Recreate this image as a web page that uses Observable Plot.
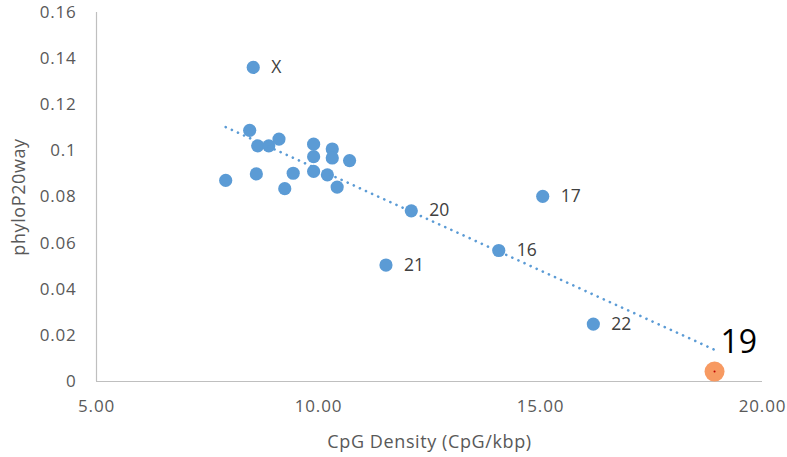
<!DOCTYPE html>
<html>
<head>
<meta charset="utf-8">
<script src="https://cdn.jsdelivr.net/npm/d3@7"></script>
<script src="https://cdn.jsdelivr.net/npm/@observablehq/plot@0.6"></script>
<style>
  html, body { margin: 0; padding: 0; background: #fff; }
  #chart svg { font-family: "Open Sans", sans-serif; }
  #chart g[aria-label="x-axis tick label"] text,
  #chart g[aria-label="y-axis tick label"] text { letter-spacing: 0.8px; }
  #chart g[aria-label="x-axis label"] text,
  #chart g[aria-label="y-axis label"] text { font-size: 18px; letter-spacing: 0.6px; fill: #595959; }
</style>
</head>
<body>
<div id="chart"></div>
<script>
// Chromosome labels (empty = unlabeled point)
const labels = ["X", "", "", "", "", "", "", "", "", "", "", "", "", "", "", "", "", "20", "21", "17", "16", "22", "19"];
// CpG density (CpG/kbp)
const cpgDensity = [8.53, 8.45, 8.63, 8.88, 9.11, 9.89, 9.89, 10.31, 10.31, 10.70, 7.91, 8.60, 9.43, 9.24, 9.89, 10.20, 10.42, 12.09, 11.52, 15.05, 14.06, 16.19, 18.92];
// phyloP20way
const phyloP = [0.1362, 0.1089, 0.1022, 0.1022, 0.1051, 0.1029, 0.0975, 0.1008, 0.0969, 0.0958, 0.0872, 0.0900, 0.0903, 0.0836, 0.0911, 0.0896, 0.0843, 0.0740, 0.0505, 0.0803, 0.0568, 0.0249, 0.0043];
const highlighted = "19";

const xTicks = [5, 10, 15, 20];
const yTicks = [0, 0.02, 0.04, 0.06, 0.08, 0.1, 0.12, 0.14, 0.16];

const data = labels.map((label, i) => ({label, x: cpgDensity[i], y: phyloP[i]}));
const blue = data.filter(d => d.label !== highlighted);
const hi = data.filter(d => d.label === highlighted);
const smallLabels = data.filter(d => d.label !== "" && d.label !== highlighted);

const chart = Plot.plot({
  width: 787,
  height: 457,
  marginTop: 12,
  marginRight: 25,
  marginBottom: 76,
  marginLeft: 96,
  x: {domain: [5, 20]},
  y: {domain: [0, 0.16]},
  style: {fontFamily: "Open Sans, sans-serif", background: "#fff"},
  marks: [
    Plot.ruleX([5], {stroke: "#BFBFBF", strokeWidth: 1.2}),
    Plot.ruleY([0], {stroke: "#BFBFBF", strokeWidth: 1.2}),
    Plot.axisX({
      ticks: xTicks, tickSize: 0, tickPadding: 18,
      tickFormat: d => d3.format(".2f")(d),
      fontSize: 17, color: "#595959",
      label: "CpG Density (CpG/kbp)", labelAnchor: "center", labelArrow: "none",
      labelOffset: 66
    }),
    Plot.axisY({
      ticks: yTicks, tickSize: 0, tickPadding: 20,
      tickFormat: d => d3.format("~g")(d),
      fontSize: 17, color: "#595959",
      label: "phyloP20way", labelAnchor: "center", labelArrow: "none",
      labelOffset: 84
    }),
    Plot.dot(blue, {x: "x", y: "y", r: 6.6, fill: "#5B9BD5", stroke: "none"}),
    Plot.linearRegressionY(data, {
      x: "x", y: "y", ci: 0, stroke: "#5B9BD5", strokeWidth: 2.6,
      strokeDasharray: "0.1 6.6", strokeLinecap: "round"
    }),
    Plot.dot(hi, {x: "x", y: "y", r: 10, fill: "#F79A62", stroke: "none"}),
    Plot.dot(hi, {x: "x", y: "y", r: 1, fill: "#C00000", stroke: "none"}),
    Plot.text(smallLabels, {x: "x", y: "y", text: "label", textAnchor: "start", dx: 18, fontSize: 17.5, fill: "#404040"}),
    Plot.text(hi, {x: "x", y: "y", text: "label", textAnchor: "start", dx: 6, dy: -29, fontSize: 32, fill: "#000"})
  ]
});
document.getElementById("chart").appendChild(chart);
</script>
</body>
</html>
